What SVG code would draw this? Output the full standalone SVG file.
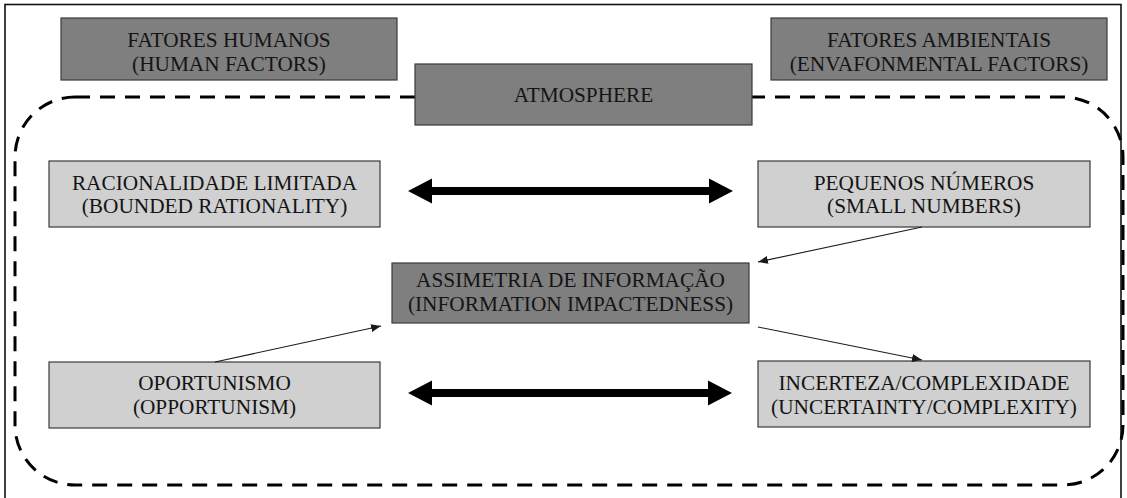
<svg xmlns="http://www.w3.org/2000/svg" width="1127" height="498" viewBox="0 0 1127 498">
  <defs>
    <style>
      .dark { fill: #7f7f7f; stroke: #3a3a3a; stroke-width: 1.2; }
      .light { fill: #d0d0d0; stroke: #3a3a3a; stroke-width: 1.2; }
      text { font-family: 'Liberation Serif', 'Times New Roman', 'DejaVu Serif', serif; font-size: 21.3px; fill: #141414; text-anchor: middle; }
      .thin { stroke: #1a1a1a; stroke-width: 1.1; fill: none; marker-end: url(#ah); }
      .big { fill: #000; }
    </style>
    <marker id="ah" viewBox="0 0 10 8" refX="10" refY="4" markerWidth="10" markerHeight="8" markerUnits="userSpaceOnUse" orient="auto">
      <path d="M0,0 L10,4 L0,8 Z" fill="#1a1a1a"/>
    </marker>
  </defs>
  <rect x="0" y="0" width="1127" height="498" fill="#ffffff"/>
  <rect x="5" y="4.5" width="1116" height="500" fill="none" stroke="#111" stroke-width="1.6"/>
  <rect x="15" y="97" width="1108" height="388" rx="60" ry="60" fill="none" stroke="#000" stroke-width="3" stroke-dasharray="15 10"/>

  <g font-family="Liberation Serif, Times New Roman, DejaVu Serif, serif">
  <g id="fatores-humanos">
    <rect class="dark" x="61" y="18" width="336" height="62"/>
    <text x="229" y="47">FATORES HUMANOS</text>
    <text x="229" y="71">(HUMAN FACTORS)</text>
  </g>
  <g id="fatores-ambientais">
    <rect class="dark" x="771" y="18" width="336" height="62"/>
    <text x="939" y="47">FATORES AMBIENTAIS</text>
    <text x="939" y="71">(ENVAFONMENTAL FACTORS)</text>
  </g>
  <g id="atmosphere">
    <rect class="dark" x="415" y="64" width="337" height="61"/>
    <text x="583.5" y="102">ATMOSPHERE</text>
  </g>
  <g id="racionalidade">
    <rect class="light" x="49" y="161" width="331" height="66"/>
    <text x="214.5" y="190">RACIONALIDADE LIMITADA</text>
    <text x="214.5" y="213">(BOUNDED RATIONALITY)</text>
  </g>
  <g id="pequenos">
    <rect class="light" x="758" y="161" width="332" height="66"/>
    <text x="924" y="190">PEQUENOS NÚMEROS</text>
    <text x="924" y="213">(SMALL NUMBERS)</text>
  </g>
  <g id="assimetria">
    <rect class="dark" x="392" y="263" width="357" height="60"/>
    <text x="570.5" y="287">ASSIMETRIA DE INFORMAÇÃO</text>
    <text x="570.5" y="311">(INFORMATION IMPACTEDNESS)</text>
  </g>
  <g id="oportunismo">
    <rect class="light" x="49" y="362" width="331" height="66"/>
    <text x="214.5" y="390">OPORTUNISMO</text>
    <text x="214.5" y="414">(OPPORTUNISM)</text>
  </g>
  <g id="incerteza">
    <rect class="light" x="758" y="361" width="332" height="66"/>
    <text x="924" y="390">INCERTEZA/COMPLEXIDADE</text>
    <text x="924" y="414">(UNCERTAINTY/COMPLEXITY)</text>
  </g>
  </g>

  <g id="connectors">
    <path class="big" d="M408,191 L432,178.5 L432,187 L709,187 L709,178.5 L733,191 L709,203.5 L709,195 L432,195 L432,203.5 Z"/>
    <path class="big" d="M408,393 L432,380.5 L432,389 L708,389 L708,380.5 L732,393 L708,405.5 L708,397 L432,397 L432,405.5 Z"/>
    <line class="thin" x1="922" y1="227" x2="758" y2="262"/>
    <line class="thin" x1="215" y1="362" x2="381" y2="326"/>
    <line class="thin" x1="758" y1="327" x2="922" y2="360"/>
  </g>
</svg>
